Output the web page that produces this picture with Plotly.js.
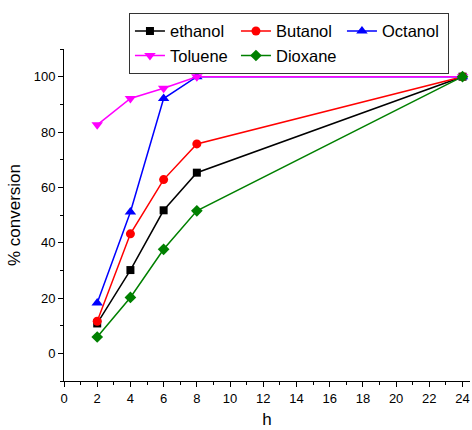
<!DOCTYPE html>
<html>
<head>
<meta charset="utf-8">
<script src="https://cdn.plot.ly/plotly-3.0.1.min.js"></script>
<style>html,body{margin:0;padding:0;background:#fff;}#chart{width:472px;height:430px;}</style>
</head>
<body>
<div id="chart"></div>
<script>
const hours = [2, 4, 6, 8, 24];
const ethanol = [10.8, 30.1, 51.7, 65.3, 100];
const butanol = [11.6, 43.2, 62.8, 75.7, 100];
const octanol = [18.2, 51.1, 92.1, 100, 100];
const toluene = [82.6, 92.1, 95.8, 100, 100];
const dioxane = [5.9, 20.2, 37.6, 51.5, 100];
const seriesNames = ["ethanol", "Butanol", "Octanol", "Toluene", "Dioxane"];

const styles = [
  {color: "#000000", symbol: "square", size: 8},
  {color: "#FF0000", symbol: "circle", size: 9},
  {color: "#0000FF", symbol: "triangle-up", size: 10},
  {color: "#FF00FF", symbol: "triangle-down", size: 10},
  {color: "#008000", symbol: "diamond", size: 9}
];
const values = [ethanol, butanol, octanol, toluene, dioxane];

const traces = values.map((v, i) => ({
  x: hours, y: v, name: seriesNames[i], type: "scatter", mode: "lines+markers",
  line: {color: styles[i].color, width: 1.5},
  marker: {color: styles[i].color, symbol: styles[i].symbol, size: styles[i].size}
}));

const font = {family: "Liberation Sans, Arial, sans-serif", color: "#000"};
const layout = {
  width: 472, height: 430,
  margin: {l: 64, r: 2, t: 49, b: 49},
  paper_bgcolor: "#fff", plot_bgcolor: "#fff",
  font: Object.assign({size: 13}, font),
  showlegend: true,
  legend: {
    orientation: "h", x: 0.16, xanchor: "left", y: 1.109, yanchor: "top",
    bordercolor: "#333", borderwidth: 1, bgcolor: "#fff",
    font: Object.assign({size: 16.5}, font),
    entrywidth: 61, tracegroupgap: 0
  },
  xaxis: {
    range: [0, 24.45], dtick: 2, tick0: 0,
    showgrid: false, zeroline: false, showline: true, linecolor: "#000", linewidth: 1,
    ticks: "outside", ticklen: 5, tickcolor: "#000",
    minor: {dtick: 1, ticks: "outside", ticklen: 3, tickcolor: "#000", showgrid: false},
    tickfont: Object.assign({size: 13}, font),
    title: {text: "h", font: Object.assign({size: 17}, font), standoff: 8}
  },
  yaxis: {
    range: [-10, 110], dtick: 20, tick0: 0,
    showgrid: false, zeroline: false, showline: true, linecolor: "#000", linewidth: 1,
    ticks: "outside", ticklen: 5, tickcolor: "#000",
    minor: {dtick: 10, ticks: "outside", ticklen: 3, tickcolor: "#000", showgrid: false},
    tickfont: Object.assign({size: 13}, font),
    title: {text: "% conversion", font: Object.assign({size: 17}, font), standoff: 8}
  }
};

Plotly.newPlot("chart", traces, layout, {displayModeBar: false, staticPlot: true});
</script>
</body>
</html>
